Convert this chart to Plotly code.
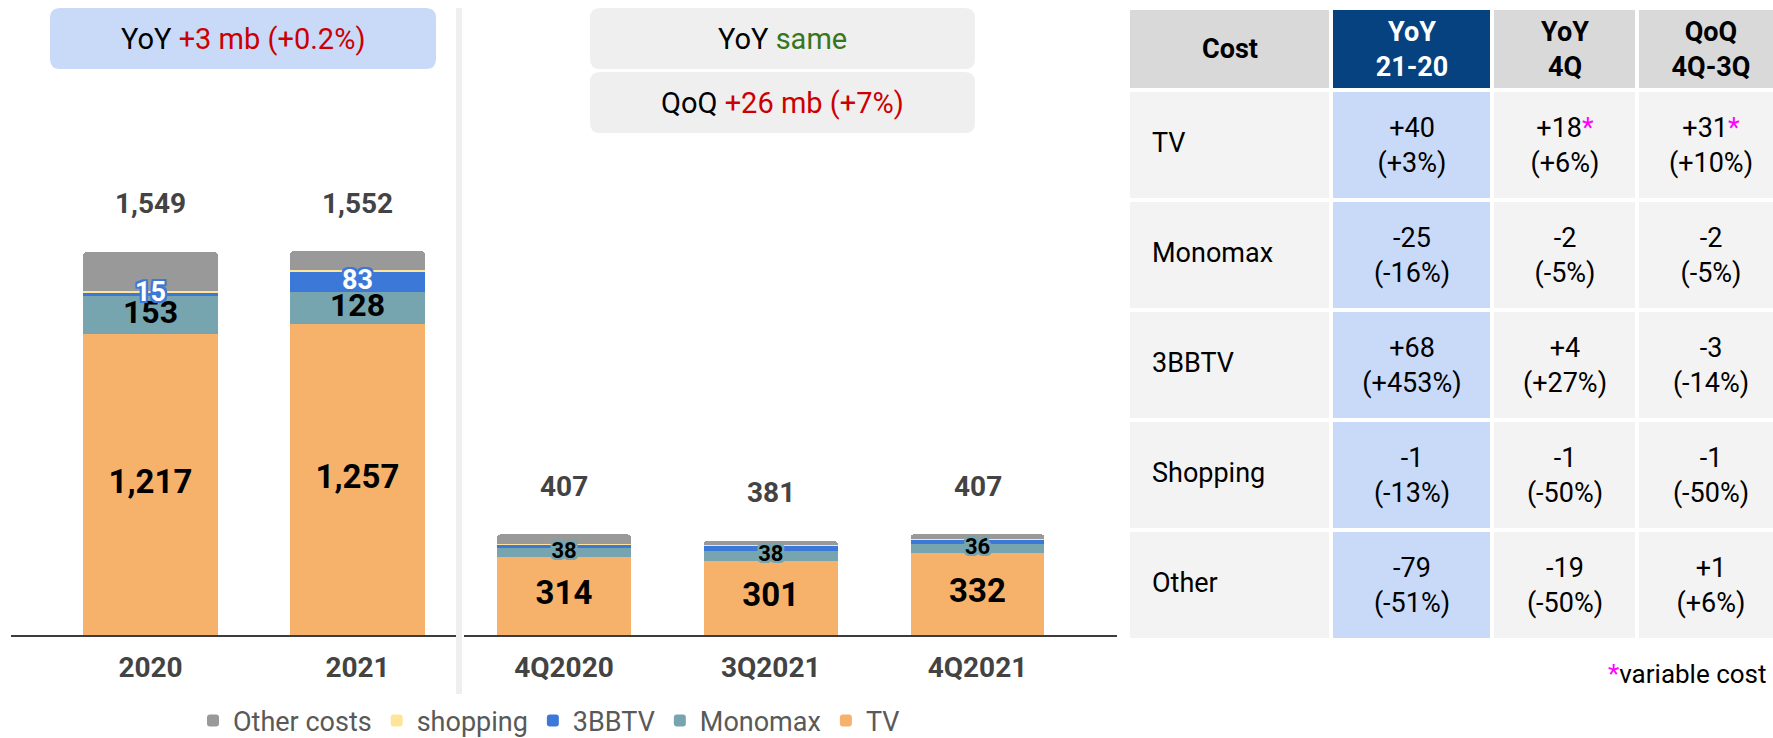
import numpy as np
import plotly.graph_objects as go

# ---- data (mb) ----
years = ["2020", "2021"]
tv_y = [1217, 1257]
monomax_y = [153, 128]
bbtv_y = [15, 83]
shopping_y = [8, 7]
other_y = [156, 77]

quarters = ["4Q2020", "3Q2021", "4Q2021"]
tv_q = [314, 301, 332]
monomax_q = [38, 38, 36]
bbtv_q = [15, 22, 19]
shopping_q = [2, 2, 1]
other_q = [38, 18, 19]

series_names = ["TV", "Monomax", "3BBTV", "shopping", "Other costs"]
series_colors = ["#f6b26b", "#76a5af", "#3c78d8", "#ffe599", "#999999"]

# table
table_header = ["Cost", "YoY<br>21-20", "YoY<br>4Q", "QoQ<br>4Q-3Q"]
cost_rows = ["TV", "Monomax", "3BBTV", "Shopping", "Other"]
yoy_diff = [40, -25, 68, -1, -79]
yoy_pct = [3, -16, 453, -13, -51]
yoy4q_diff = [18, -2, 4, -1, -19]
yoy4q_pct = [6, -5, 27, -50, -50]
qoq_diff = [31, -2, -3, -1, 1]
qoq_pct = [10, -5, -14, -50, 6]
variable_cost = [True, False, False, False, False]

# ---- layout constants (pixels) ----
W, H = 1773, 738
FONT = "Roboto"
BASE = 635
PX_PER_MB = 0.2473
YMAX = BASE / PX_PER_MB
RED = "#cc0000"
GREEN = "#38761d"
DARK = "#434343"


def cat_range(left, right, first_center, step):
    return [(left - first_center) / step, (right - first_center) / step]


def halo(color, w=2):
    offs = [(-w, 0), (w, 0), (0, -w), (0, w), (-w, -w), (w, w), (-w, w), (w, -w)]
    return ", ".join(f"{dx}px {dy}px 0 {color}" for dx, dy in offs)


def rounded(x0, y0, x1, y1, r=10):
    return (f"M{x0 + r},{y0} H{x1 - r} Q{x1},{y0} {x1},{y0 + r} V{y1 - r} "
            f"Q{x1},{y1} {x1 - r},{y1} H{x0 + r} Q{x0},{y1} {x0},{y1 - r} "
            f"V{y0 + r} Q{x0},{y0} {x0 + r},{y0} Z")


fig = go.Figure()

annual = [tv_y, monomax_y, bbtv_y, shopping_y, other_y]
quarterly = [tv_q, monomax_q, bbtv_q, shopping_q, other_q]

for name, color, vals in zip(series_names, series_colors, annual):
    fig.add_trace(go.Bar(x=years, y=vals, name=name, marker_color=color,
                         marker_line_width=0, width=0.652, xaxis="x", yaxis="y",
                         legendgroup=name, hoverinfo="skip"))
for name, color, vals in zip(series_names, series_colors, quarterly):
    fig.add_trace(go.Bar(x=quarters, y=vals, name=name, marker_color=color,
                         marker_line_width=0, width=0.648, xaxis="x2", yaxis="y2",
                         legendgroup=name, showlegend=False, hoverinfo="skip"))


def seg_labels(cats, stacks, idx, ax, size, color, shadow=None):
    arr = np.array(stacks[: idx + 1], dtype=float)
    mid = arr[:-1].sum(axis=0) + arr[-1] / 2
    font = dict(family=FONT, size=size, color=color, weight="bold")
    if shadow:
        font["shadow"] = shadow
    fig.add_trace(go.Scatter(x=cats, y=mid, mode="text",
                             text=[f"{v:,}" for v in stacks[idx]],
                             textposition="middle center", textfont=font,
                             xaxis=ax[0], yaxis=ax[1], showlegend=False,
                             hoverinfo="skip"))


seg_labels(years, annual, 0, ("x", "y"), 33, "black")
seg_labels(years, annual, 1, ("x", "y"), 32, "black")
seg_labels(years, annual, 2, ("x", "y"), 27, "white", halo("#3c78d8"))
seg_labels(quarters, quarterly, 0, ("x2", "y2"), 33, "black")
seg_labels(quarters, quarterly, 1, ("x2", "y2"), 22, "black", halo("#76a5af"))

annotations = []
for cats, stacks, xr, yr in [(years, annual, "x", "y"), (quarters, quarterly, "x2", "y2")]:
    totals = np.array(stacks).sum(axis=0)
    for i, t in enumerate(totals):
        annotations.append(dict(x=i, y=t, xref=xr, yref=yr, text=f"{int(t):,}",
                                showarrow=False, yanchor="middle", yshift=48,
                                font=dict(family=FONT, size=28, color=DARK,
                                          weight="bold")))

# ---- table as heatmap ----
col_edges = [1128, 1331, 1492, 1637, 1784]
row_edges = [8, 90, 200, 310, 420, 530, 640]
star = "<span style='color:#ff00ff'>*</span>"

head = ["<b>Cost</b>",
        "<br>".join(f"<b><span style='color:white'>{p}</span></b>"
                    for p in table_header[1].split("<br>")),
        f"<b>{table_header[2]}</b>", f"<b>{table_header[3]}</b>"]
text = [head]
z = [[0, 1, 0, 0]]
for i in range(len(cost_rows)):
    s = star if variable_cost[i] else ""
    text.append(["",
                 f"{yoy_diff[i]:+d}<br>({yoy_pct[i]:+d}%)",
                 f"{yoy4q_diff[i]:+d}{s}<br>({yoy4q_pct[i]:+d}%)",
                 f"{qoq_diff[i]:+d}{s}<br>({qoq_pct[i]:+d}%)"])
    z.append([2, 3, 2, 2])

fig.add_trace(go.Heatmap(
    x=col_edges, y=row_edges, z=z, text=text, texttemplate="%{text}",
    textfont=dict(family=FONT, size=27, color="black"),
    colorscale=[[0, "#d9d9d9"], [1 / 3, "#05427f"], [2 / 3, "#f3f3f3"], [1, "#c9daf8"]],
    zmin=0, zmax=3, showscale=False, xgap=4, ygap=4,
    xaxis="x3", yaxis="y3", hoverinfo="skip"))

row_mid = [(a + b) / 2 for a, b in zip(row_edges[1:-1], row_edges[2:])]
fig.add_trace(go.Scatter(x=[1152] * len(cost_rows), y=row_mid, mode="text",
                         text=cost_rows, textposition="middle right",
                         textfont=dict(family=FONT, size=27, color="black"),
                         xaxis="x3", yaxis="y3", showlegend=False, hoverinfo="skip"))

# ---- boxes ----
boxes = [((50, 8, 436, 69), "#c9daf8",
          f"YoY <span style='color:{RED}'>+3 mb (+0.2%)</span>"),
         ((590, 8, 975, 69), "#efefef",
          f"YoY <span style='color:{GREEN}'>same</span>"),
         ((590, 72, 975, 133), "#efefef",
          f"QoQ <span style='color:{RED}'>+26 mb (+7%)</span>")]
shapes = [dict(type="line", x0=459, x1=459, y0=8, y1=694, xref="x3", yref="y3",
               line=dict(color="#efefef", width=6), layer="below")]
for (x0, y0, x1, y1), fill, label in boxes:
    shapes.append(dict(type="path", path=rounded(x0, y0, x1, y1), xref="x3", yref="y3",
                       fillcolor=fill, line_width=0, layer="below"))
    annotations.append(dict(x=(x0 + x1) / 2, y=(y0 + y1) / 2, xref="x3", yref="y3",
                            text=label, showarrow=False,
                            font=dict(family=FONT, size=29, color="black")))

annotations.append(dict(x=1769, y=674, xref="x3", yref="y3", xanchor="right",
                        text=f"{star}variable cost", showarrow=False,
                        font=dict(family=FONT, size=26, color="black")))

axis_common = dict(type="category", showline=True, linecolor="#3c3c3c", linewidth=1.5,
                   showgrid=False, zeroline=False, ticks="", ticklabelstandoff=7,
                   tickfont=dict(family=FONT, size=28, color=DARK, weight="bold"))
yaxis_common = dict(visible=False, range=[0, YMAX], domain=[1 - BASE / H, 1])

fig.update_layout(
    width=W, height=H,
    # legend sits at the very bottom; keep it from pushing the plot area up
    margin=dict(l=0, r=0, t=0, b=0, autoexpand=False),
    paper_bgcolor="white", plot_bgcolor="rgba(0,0,0,0)",
    barmode="stack", barcornerradius=4,
    xaxis=dict(domain=[11 / W, 456 / W], range=cat_range(11, 456, 150.5, 207),
               anchor="y", **axis_common),
    xaxis2=dict(domain=[464 / W, 1117 / W], range=cat_range(464, 1117, 564, 206.75),
                anchor="y2", **axis_common),
    yaxis=dict(anchor="x", **yaxis_common),
    yaxis2=dict(anchor="x2", **yaxis_common),
    xaxis3=dict(domain=[0, 1], range=[0, W], visible=False, anchor="y3"),
    yaxis3=dict(domain=[0, 1], range=[H, 0], visible=False, anchor="x3"),
    legend=dict(orientation="h", traceorder="reversed", x=549 / W, xanchor="center",
                y=1 - 721 / H, yanchor="middle", bgcolor="rgba(0,0,0,0)",
                font=dict(family=FONT, size=27, color="#595959")),
    shapes=shapes, annotations=annotations,
    font=dict(family=FONT),
)

# page body has a default 8px margin; drop it so the figure sits at the corner
fig.write_html("out.html", config={"displayModeBar": False},
               post_script="document.body.style.margin='0';")
